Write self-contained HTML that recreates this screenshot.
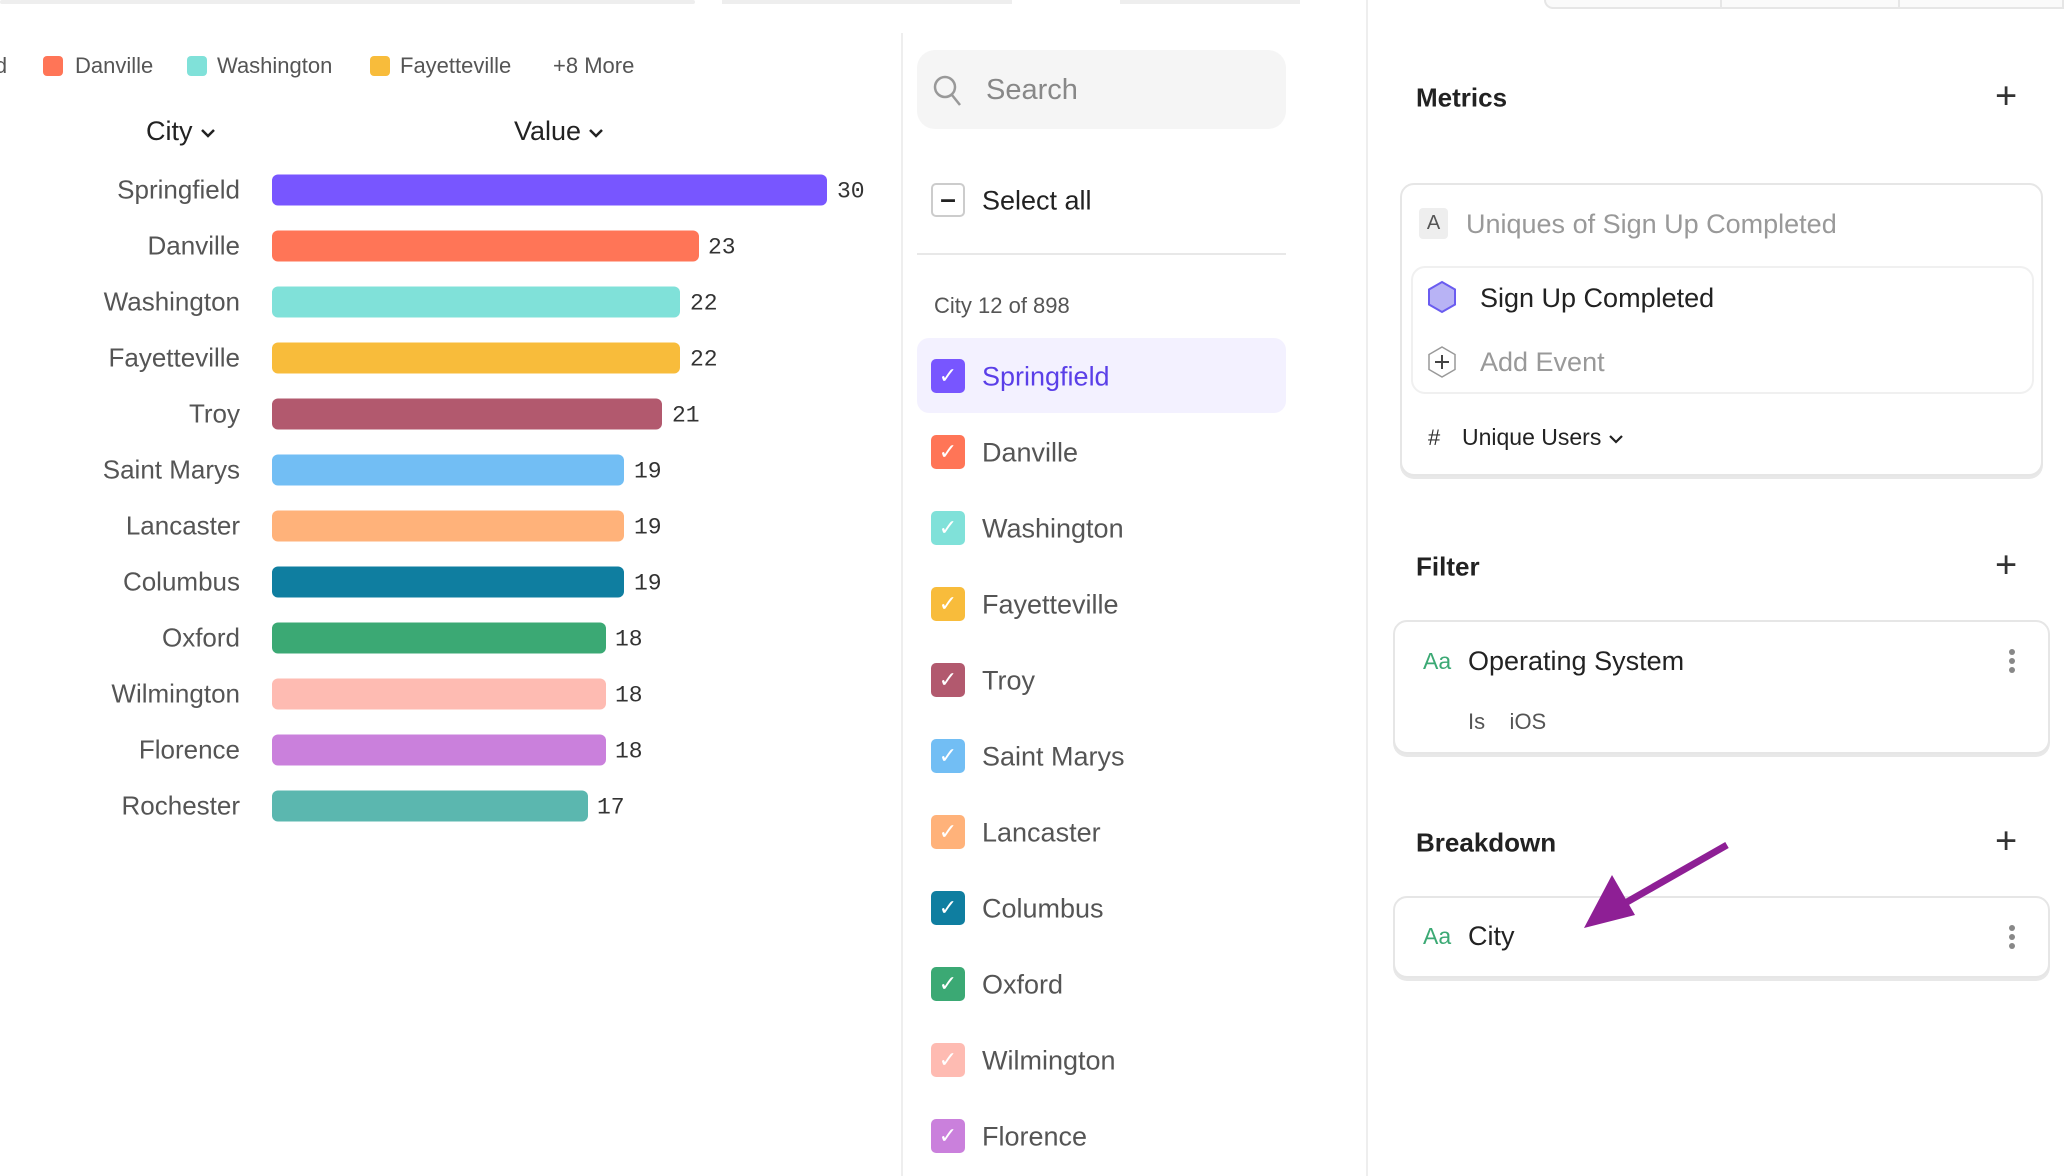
<!DOCTYPE html>
<html><head><meta charset="utf-8"><style>
*{margin:0;padding:0;box-sizing:border-box}
body{width:2064px;height:1176px;background:#fff;position:relative;overflow:hidden;font-family:"Liberation Sans",sans-serif;color:#333}
.a{position:absolute;white-space:nowrap}
.lbl{position:absolute;right:1824px;font-size:26px;color:#555;transform:translateY(-50%)}
.bar{position:absolute;left:272px;height:31px;border-radius:6px;transform:translateY(-50%)}
.val{position:absolute;font-family:"Liberation Mono",monospace;font-size:23px;color:#333;transform:translateY(-45%)}
.leg{position:absolute;top:56px;width:20px;height:20px;border-radius:4px}
.legt{position:absolute;top:53px;font-size:22px;color:#555}
.cb{position:absolute;left:931px;width:34px;height:34px;border-radius:5px;transform:translateY(-50%);color:#fff;font-size:22px;text-align:center;line-height:34px}
.it{position:absolute;left:982px;font-size:27px;color:#555;transform:translateY(-46%)}
.h{position:absolute;left:1416px;font-size:26px;font-weight:bold;color:#222;transform:translateY(-46%)}
.plus{position:absolute;left:1995px;font-size:38px;color:#333;transform:translateY(-50%);font-weight:300}
.card{position:absolute;border:2px solid #e6e6e6;border-radius:14px;box-shadow:0 3px 0 #e8e8e8;background:#fff}
.dots{position:absolute;left:2009px;width:6px;transform:translateY(-50%)}
.dots i{display:block;width:6px;height:6px;border-radius:3px;background:#888;margin:3px 0}
.chev{display:inline-block;vertical-align:middle;margin-left:6px}
</style></head><body>
<div class="a" style="left:0;top:0;width:695px;height:4px;background:#eee;border-radius:2px"></div>
<div class="a" style="left:722px;top:0;width:290px;height:4px;background:#eee"></div>
<div class="a" style="left:1120px;top:0;width:180px;height:4px;background:#eee"></div>
<div class="a" style="left:1544px;top:0;width:520px;height:9px;border:2px solid #e6e6e6;border-top:none;border-radius:0 0 0 10px;background:#fafafa"></div>
<div class="a" style="left:1720px;top:0;width:2px;height:8px;background:#e6e6e6"></div>
<div class="a" style="left:1898px;top:0;width:2px;height:8px;background:#e6e6e6"></div>

<div class="legt" style="left:-10px">ld</div>
<div class="leg" style="left:43px;background:#ff7557"></div><div class="legt" style="left:75px">Danville</div>
<div class="leg" style="left:187px;background:#80e1d9"></div><div class="legt" style="left:217px">Washington</div>
<div class="leg" style="left:370px;background:#f8bc3b"></div><div class="legt" style="left:400px">Fayetteville</div>
<div class="legt" style="left:553px">+8 More</div>

<div class="a" style="left:146px;top:116px;font-size:27px;color:#222">City<svg class="chev" width="18" height="12"><polyline points="3,3 9,9 15,3" fill="none" stroke="#222" stroke-width="2.5"/></svg></div>
<div class="a" style="left:514px;top:116px;font-size:27px;color:#222">Value<svg class="chev" width="18" height="12"><polyline points="3,3 9,9 15,3" fill="none" stroke="#222" stroke-width="2.5"/></svg></div>

<div class="lbl" style="top:190px">Springfield</div><div class="bar" style="top:190px;width:555px;background:#7856ff"></div><div class="val" style="top:190px;left:837px">30</div>
<div class="lbl" style="top:246px">Danville</div><div class="bar" style="top:246px;width:427px;background:#ff7557"></div><div class="val" style="top:246px;left:708px">23</div>
<div class="lbl" style="top:302px">Washington</div><div class="bar" style="top:302px;width:408px;background:#80e1d9"></div><div class="val" style="top:302px;left:690px">22</div>
<div class="lbl" style="top:358px">Fayetteville</div><div class="bar" style="top:358px;width:408px;background:#f8bc3b"></div><div class="val" style="top:358px;left:690px">22</div>
<div class="lbl" style="top:414px">Troy</div><div class="bar" style="top:414px;width:390px;background:#b2596e"></div><div class="val" style="top:414px;left:672px">21</div>
<div class="lbl" style="top:470px">Saint Marys</div><div class="bar" style="top:470px;width:352px;background:#72bef4"></div><div class="val" style="top:470px;left:634px">19</div>
<div class="lbl" style="top:526px">Lancaster</div><div class="bar" style="top:526px;width:352px;background:#ffb27a"></div><div class="val" style="top:526px;left:634px">19</div>
<div class="lbl" style="top:582px">Columbus</div><div class="bar" style="top:582px;width:352px;background:#0f7ea0"></div><div class="val" style="top:582px;left:634px">19</div>
<div class="lbl" style="top:638px">Oxford</div><div class="bar" style="top:638px;width:334px;background:#3ba974"></div><div class="val" style="top:638px;left:615px">18</div>
<div class="lbl" style="top:694px">Wilmington</div><div class="bar" style="top:694px;width:334px;background:#febbb2"></div><div class="val" style="top:694px;left:615px">18</div>
<div class="lbl" style="top:750px">Florence</div><div class="bar" style="top:750px;width:334px;background:#ca80dc"></div><div class="val" style="top:750px;left:615px">18</div>
<div class="lbl" style="top:806px">Rochester</div><div class="bar" style="top:806px;width:316px;background:#5bb7af"></div><div class="val" style="top:806px;left:597px">17</div>

<div class="a" style="left:901px;top:33px;width:2px;height:1143px;background:#eee"></div>
<div class="a" style="left:917px;top:50px;width:369px;height:79px;background:#f5f5f5;border-radius:18px"></div>
<svg class="a" style="left:932px;top:74px" width="32" height="34"><circle cx="13" cy="13" r="10" fill="none" stroke="#999" stroke-width="2.5"/><line x1="20" y1="21" x2="28" y2="31" stroke="#999" stroke-width="2.5"/></svg>
<div class="a" style="left:986px;top:74px;font-size:29px;color:#888">Search</div>
<div class="cb" style="top:200px;border:2px solid #ccc;background:#fff;color:#222;line-height:28px;font-size:28px;font-weight:bold">&#8211;</div>
<div class="it" style="top:200px;color:#222">Select all</div>
<div class="a" style="left:917px;top:253px;width:369px;height:2px;background:#e8e8e8"></div>
<div class="a" style="left:934px;top:293px;font-size:22px;color:#555">City 12 of 898</div>
<div class="a" style="left:917px;top:338px;width:369px;height:75px;background:#f3f1ff;border-radius:12px"></div>
<div class="cb" style="top:376px;background:#7856ff">&#10003;</div><div class="it" style="top:376px;color:#5a3fe8">Springfield</div>
<div class="cb" style="top:452px;background:#ff7557">&#10003;</div><div class="it" style="top:452px">Danville</div>
<div class="cb" style="top:528px;background:#80e1d9">&#10003;</div><div class="it" style="top:528px">Washington</div>
<div class="cb" style="top:604px;background:#f8bc3b">&#10003;</div><div class="it" style="top:604px">Fayetteville</div>
<div class="cb" style="top:680px;background:#b2596e">&#10003;</div><div class="it" style="top:680px">Troy</div>
<div class="cb" style="top:756px;background:#72bef4">&#10003;</div><div class="it" style="top:756px">Saint Marys</div>
<div class="cb" style="top:832px;background:#ffb27a">&#10003;</div><div class="it" style="top:832px">Lancaster</div>
<div class="cb" style="top:908px;background:#0f7ea0">&#10003;</div><div class="it" style="top:908px">Columbus</div>
<div class="cb" style="top:984px;background:#3ba974">&#10003;</div><div class="it" style="top:984px">Oxford</div>
<div class="cb" style="top:1060px;background:#febbb2">&#10003;</div><div class="it" style="top:1060px">Wilmington</div>
<div class="cb" style="top:1136px;background:#ca80dc">&#10003;</div><div class="it" style="top:1136px">Florence</div>

<div class="a" style="left:1366px;top:0;width:2px;height:1176px;background:#eee"></div>
<div class="h" style="top:97px">Metrics</div><div class="plus" style="top:97px">+</div>
<div class="card" style="left:1400px;top:183px;width:643px;height:293px"></div>
<div class="a" style="left:1419px;top:208px;width:29px;height:31px;background:#eee;border-radius:4px;font-size:20px;text-align:center;line-height:31px;color:#555">A</div>
<div class="a" style="left:1466px;top:209px;font-size:27px;color:#999">Uniques of Sign Up Completed</div>
<div class="card" style="left:1411px;top:266px;width:623px;height:128px;box-shadow:none;border-color:#f0f0f0"></div>
<svg class="a" style="left:1426px;top:280px" width="32" height="34"><polygon points="16,2 29,9.5 29,24.5 16,32 3,24.5 3,9.5" fill="#b8b3f5" stroke="#6a5cf0" stroke-width="2"/></svg>
<div class="a" style="left:1480px;top:283px;font-size:27px;color:#222">Sign Up Completed</div>
<svg class="a" style="left:1426px;top:345px" width="32" height="34"><polygon points="16,2 29,9.5 29,24.5 16,32 3,24.5 3,9.5" fill="none" stroke="#999" stroke-width="1.5"/><line x1="16" y1="10" x2="16" y2="24" stroke="#444" stroke-width="2"/><line x1="9" y1="17" x2="23" y2="17" stroke="#444" stroke-width="2"/></svg>
<div class="a" style="left:1480px;top:347px;font-size:27px;color:#999">Add Event</div>
<div class="a" style="left:1428px;top:425px;font-size:22px;color:#333">#</div>
<div class="a" style="left:1462px;top:424px;font-size:23px;color:#222">Unique Users<svg class="chev" width="18" height="12"><polyline points="3,3 9,9 15,3" fill="none" stroke="#222" stroke-width="2.2"/></svg></div>

<div class="h" style="top:566px">Filter</div><div class="plus" style="top:566px">+</div>
<div class="card" style="left:1393px;top:620px;width:657px;height:134px"></div>
<div class="a" style="left:1423px;top:648px;font-size:23px;color:#3ba974">Aa</div>
<div class="a" style="left:1468px;top:646px;font-size:27px;color:#222">Operating System</div>
<div class="dots" style="top:661px"><i></i><i></i><i></i></div>
<div class="a" style="left:1468px;top:709px;font-size:22px;color:#555">Is&nbsp;&nbsp;&nbsp;&nbsp;iOS</div>

<div class="h" style="top:842px">Breakdown</div><div class="plus" style="top:842px">+</div>
<div class="card" style="left:1393px;top:896px;width:657px;height:82px"></div>
<div class="a" style="left:1423px;top:923px;font-size:23px;color:#3ba974">Aa</div>
<div class="a" style="left:1468px;top:921px;font-size:27px;color:#222">City</div>
<div class="dots" style="top:937px"><i></i><i></i><i></i></div>
<svg class="a" style="left:0;top:0" width="2064" height="1176"><line x1="1727" y1="845" x2="1620" y2="906" stroke="#8e1f95" stroke-width="7"/><polygon points="1584,928 1612,875 1635,915" fill="#8e1f95"/></svg>
</body></html>
